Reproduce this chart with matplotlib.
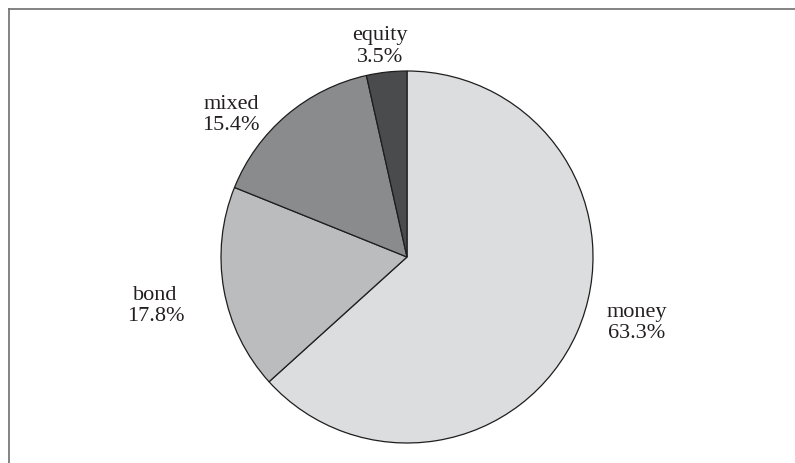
import matplotlib.pyplot as plt
from matplotlib.lines import Line2D

plt.rcParams['font.family'] = ['Liberation Serif', 'DejaVu Serif']

# fund categories, clockwise from 12 o'clock
categories = ['money', 'bond', 'mixed', 'equity']
shares = [63.3, 17.8, 15.4, 3.5]
colors = ['#dcdddf', '#bbbcbe', '#8a8b8d', '#4a4b4d']

# label anchor points (pie units, radius = 1)
label_x = [1.237, -1.352, -0.946, -0.145]
label_y = [-0.35, -0.26, 0.77, 1.137]

fig = plt.figure(figsize=(7.95, 4.64), dpi=100)
ax = fig.add_axes([0, 0, 1, 1])

wedges, _ = ax.pie(shares, colors=colors, startangle=90, counterclock=False,
                   radius=1, center=(0, 0),
                   wedgeprops=dict(edgecolor='#1e1e1e', linewidth=0.9))

for name, val, lx, ly in zip(categories, shares, label_x, label_y):
    ax.text(lx, ly, f'{name}\n{val:.1f}%', ha='center', va='center',
            multialignment='center', fontsize=16, color='#231f20',
            linespacing=1.15)

ax.set_xlim(-407 / 186, (795 - 407) / 186)
ax.set_ylim((258 - 464) / 186, 258 / 186)
ax.set_aspect('auto')
ax.axis('off')

# outer frame (only top and left edges show)
x0 = 8.5 / 795
y0 = 1 - 9.5 / 464
fig.add_artist(Line2D([x0, 1.0], [y0, y0], transform=fig.transFigure,
                      color='#6e6e6e', linewidth=1.2))
fig.add_artist(Line2D([x0, x0], [0.0, y0], transform=fig.transFigure,
                      color='#6e6e6e', linewidth=1.2))

fig.savefig('out.png', dpi=100)
